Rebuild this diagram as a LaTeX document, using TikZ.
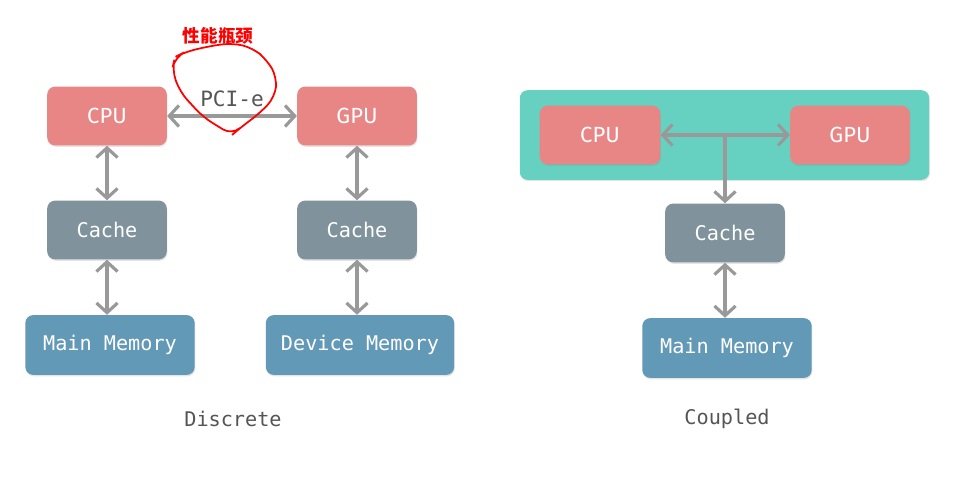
\documentclass[tikz,border=0pt]{standalone}
\usepackage{fontspec}
\setmainfont{Fira Sans}
\setmonofont{DejaVu Sans Mono}
\newfontfamily\cjk{Noto Sans CJK SC}
\usetikzlibrary{arrows.meta, shadows}

\definecolor{cpured}{HTML}{E88585}
\definecolor{cachegray}{HTML}{80939D}
\definecolor{memblue}{HTML}{6299B6}
\definecolor{socteal}{HTML}{66D1C1}
\definecolor{linkgray}{HTML}{999999}
\definecolor{labelgray}{HTML}{555555}

\tikzset{
  unit/.style={rounded corners=4.5pt, text=white, minimum height=59\pxu,
    drop shadow={opacity=0.2, shadow xshift=0.4pt, shadow yshift=-0.8pt}},
  proc/.style={unit, fill=cpured, minimum width=120\pxu, font=\fontsize{12.5}{14}\selectfont},
  cachebox/.style={unit, fill=cachegray, minimum width=120\pxu, font=\ttfamily\fontsize{11.5}{13}\selectfont},
  membox/.style={unit, fill=memblue, font=\ttfamily\fontsize{11.5}{13}\selectfont},
  link/.style={draw=linkgray, line width=2.3pt,
    {Straight Barb[length=5.5pt, width=12pt, line width=1.8pt]}-{Straight Barb[length=5.5pt, width=12pt, line width=1.8pt]}},
  caption/.style={text=labelgray, font=\ttfamily\fontsize{11.5}{13}\selectfont}
}
\newlength{\pxu}
\setlength{\pxu}{0.567pt}

\begin{document}
\begin{tikzpicture}[x=0.02cm, y=-0.02cm]
\useasboundingbox[fill=white] (0,0) rectangle (956,487);

% Discrete
\node[proc] (dcpu) at (107,116) {CPU};
\node[proc] (dgpu) at (357,116) {GPU};
\node[cachebox] (dcache1) at (107,230) {Cache};
\node[cachebox] (dcache2) at (357,230) {Cache};
\node[membox, minimum width=170\pxu, minimum height=60\pxu] (dmem) at (110,345) {Main Memory};
\node[membox, minimum width=189\pxu, minimum height=60\pxu] (dev) at (360,345) {Device Memory};
\draw[link] (dcpu) -- (dgpu) node[midway, above=1pt, text=labelgray, font=\ttfamily\fontsize{12}{13}\selectfont] (pcie) {PCI-e};
\draw[link] (dcpu) -- (dcache1);
\draw[link] (dcache1) -- (dcache1 |- dmem.north);
\draw[link] (dgpu) -- (dcache2);
\draw[link] (dcache2) -- (dcache2 |- dev.north);
\node[caption] (discrete) at (233,419) {Discrete};

% bottleneck mark
\draw[red, line width=1pt, rounded corners=6pt]
  (185,52) -- (175,57) -- (172,70) -- (180,92) -- (203,117) -- (232,135)
  -- (240,128) -- (260,113) -- (275,97) -- (277,77) -- (267,60) -- (253,48)
  -- (233,43) -- (210,46) -- cycle;
\node[text=red, font=\cjk\bfseries\fontsize{10}{12}\selectfont] (neck) at (218,36) {性能瓶颈};

% Coupled
\node[unit, fill=socteal, minimum width=411\pxu, minimum height=90\pxu] (soc) at (724.5,135) {};
\node[proc, minimum width=121\pxu] (ccpu) at (600,135) {CPU};
\node[proc] (cgpu) at (850,135) {GPU};
\node[cachebox] (ccache) at (725,233) {Cache};
\node[membox, minimum width=170\pxu, minimum height=60\pxu] (cmem) at (727,348) {Main Memory};
\coordinate (bus) at (725,135);
\draw[link] (ccpu) -- (cgpu);
\draw[draw=linkgray, line width=2.3pt, -{Straight Barb[length=5.5pt, width=12pt, line width=1.8pt]}] (bus) -- (ccache);
\draw[link] (ccache) -- (ccache |- cmem.north);
\node[caption] (coupled) at (727,419) {Coupled};
\end{tikzpicture}
\end{document}
